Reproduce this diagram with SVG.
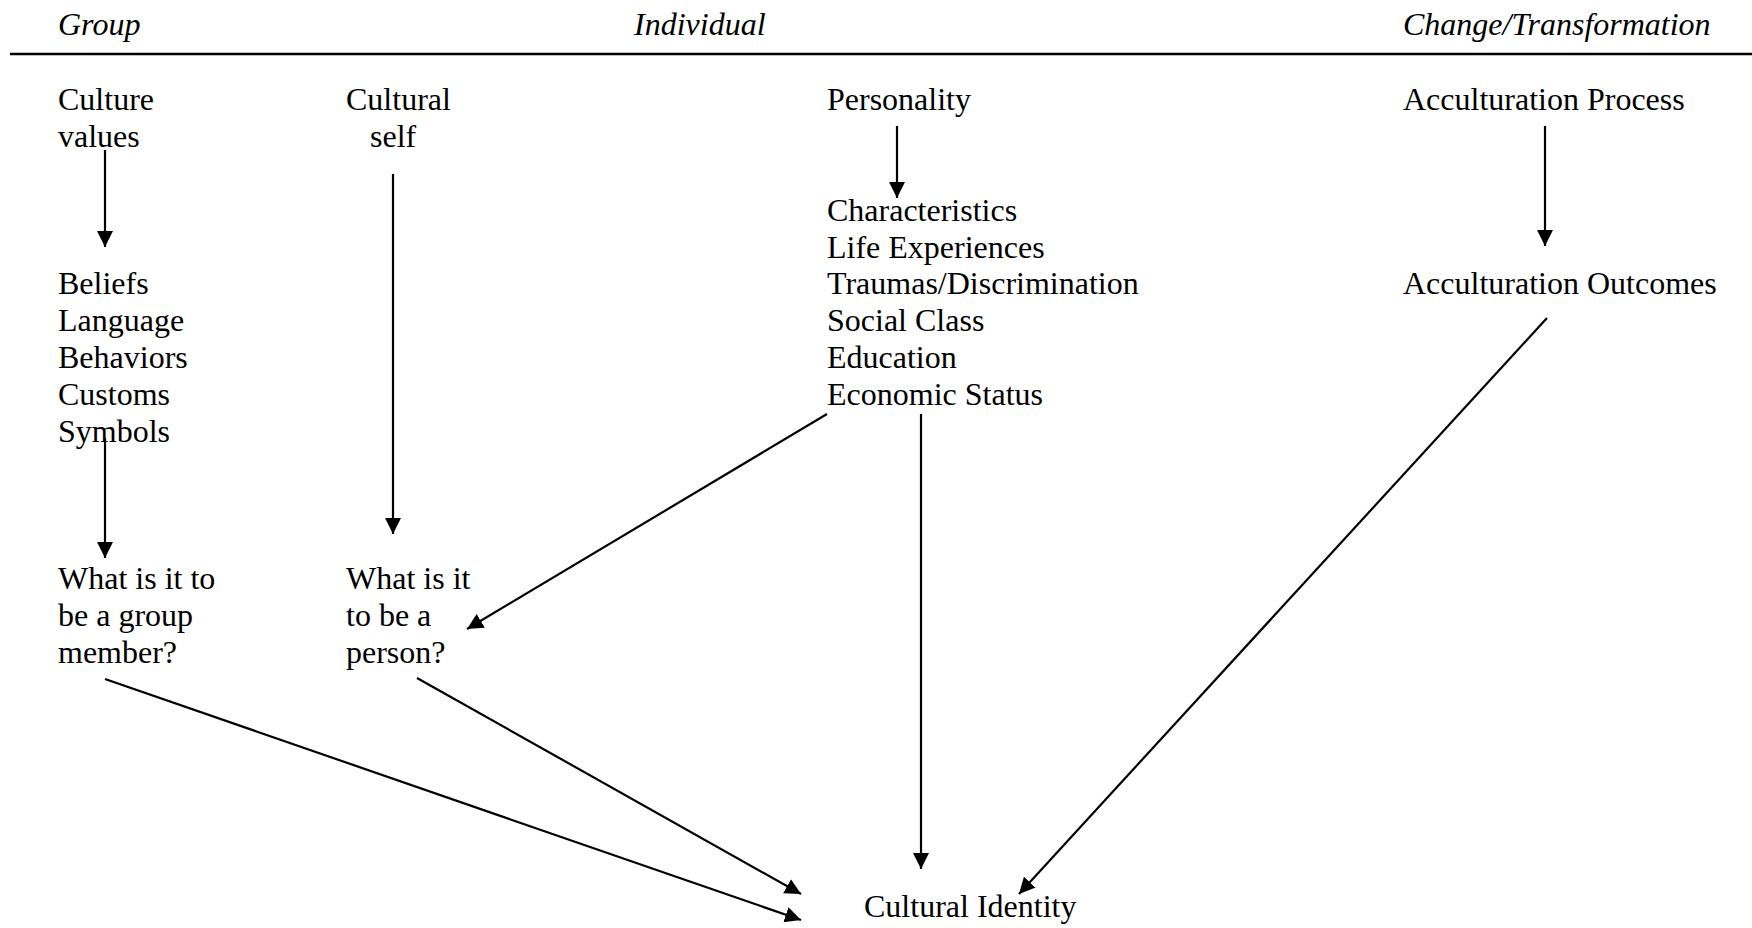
<svg xmlns="http://www.w3.org/2000/svg" width="1752" height="928" viewBox="0 0 1752 928">
<style>
text{font-family:"Liberation Serif","Times New Roman",serif;font-size:32px;fill:#000}
.h{font-style:italic}
.c{stroke:#000;stroke-width:2.2;fill:none}
</style>
<defs>
<marker id="ah" markerUnits="userSpaceOnUse" markerWidth="18" markerHeight="18" refX="16" refY="8" orient="auto">
<path d="M0,0 L16,8 L0,16 z" fill="#000"/>
</marker>
</defs>
<rect width="1752" height="928" fill="#fff"/>
<g id="header">
<text class="h" x="58" y="35">Group</text>
<text class="h" x="634" y="35">Individual</text>
<text class="h" x="1403" y="35">Change/Transformation</text>
<line x1="10" y1="54" x2="1752" y2="54" stroke="#000" stroke-width="2.5"/>
</g>
<g id="culture-values"><text x="58" y="110">Culture</text><text x="58" y="147">values</text></g>
<g id="cultural-self"><text x="346" y="110">Cultural</text><text x="370" y="147">self</text></g>
<g id="personality"><text x="827" y="110">Personality</text></g>
<g id="acc-process"><text x="1403" y="110">Acculturation Process</text></g>
<g id="group-items">
<text x="58" y="294">Beliefs</text>
<text x="58" y="331">Language</text>
<text x="58" y="368">Behaviors</text>
<text x="58" y="405">Customs</text>
<text x="58" y="442">Symbols</text>
</g>
<g id="personal-items">
<text x="827" y="221">Characteristics</text>
<text x="827" y="258">Life Experiences</text>
<text x="827" y="294">Traumas/Discrimination</text>
<text x="827" y="331">Social Class</text>
<text x="827" y="368">Education</text>
<text x="827" y="405">Economic Status</text>
</g>
<g id="acc-outcomes"><text x="1403" y="294">Acculturation Outcomes</text></g>
<g id="group-member">
<text x="58" y="589">What is it to</text>
<text x="58" y="626">be a group</text>
<text x="58" y="663">member?</text>
</g>
<g id="person">
<text x="346" y="589">What is it</text>
<text x="346" y="626">to be a</text>
<text x="346" y="663">person?</text>
</g>
<g id="cultural-identity"><text x="864" y="917">Cultural Identity</text></g>
<g id="connectors">
<line class="c" x1="105" y1="150" x2="105" y2="247" marker-end="url(#ah)"/>
<line class="c" x1="105" y1="438" x2="105" y2="558" marker-end="url(#ah)"/>
<line class="c" x1="393" y1="174" x2="393" y2="534" marker-end="url(#ah)"/>
<line class="c" x1="897" y1="126" x2="897" y2="198" marker-end="url(#ah)"/>
<line class="c" x1="1545" y1="126" x2="1545" y2="246" marker-end="url(#ah)"/>
<line class="c" x1="827" y1="414" x2="467" y2="629" marker-end="url(#ah)"/>
<line class="c" x1="921" y1="414" x2="921" y2="869" marker-end="url(#ah)"/>
<line class="c" x1="1547" y1="318" x2="1019" y2="894" marker-end="url(#ah)"/>
<line class="c" x1="105" y1="679" x2="801" y2="920" marker-end="url(#ah)"/>
<line class="c" x1="417" y1="678" x2="801" y2="894" marker-end="url(#ah)"/>
</g>
</svg>
